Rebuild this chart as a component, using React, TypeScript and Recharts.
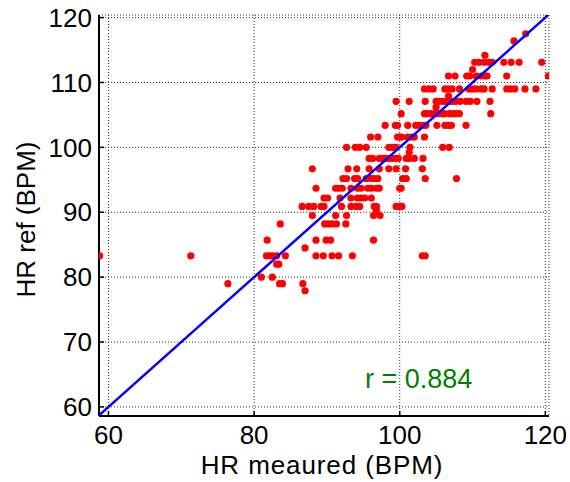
import React from 'react';
import { ScatterChart, Scatter, XAxis, YAxis, CartesianGrid, Label } from 'recharts';

// reference HR levels (rows of the scatter) and the measured HR values seen on each row
const REF_LEVELS = [
  117.5, 116.4, 114.2, 113.1, 112.0, 111.0, 109.0, 107.9, 107.1, 106.2, 105.2, 103.4, 101.6,
  100.0, 99.2, 98.3, 96.7, 95.2, 93.7, 92.2, 90.9, 90.3, 89.5, 88.2, 85.7, 84.5, 83.3, 82.0,
  80.0, 79.0, 77.9,
];

const MEASURED_AT_LEVEL = [
  [117.3],
  [115.7],
  [111.7],
  [110.3, 110.9, 111.6, 112.2, 112.7, 114.3, 115.3, 116.4, 119.5],
  [110.0],
  [106.7, 107.6, 109.2, 109.6, 110.5, 111.2, 111.7, 112.0, 114.7, 120.4],
  [103.4, 104.0, 104.6, 106.2, 106.7, 107.2, 108.2, 109.5, 110.0, 110.5, 111.2, 111.6, 112.7, 114.7, 115.2, 115.8, 117.2, 118.7],
  [106.7],
  [99.5, 101.3, 103.5, 105.0, 105.4, 105.9, 106.4, 106.8, 107.2, 107.7, 108.3, 109.1, 109.7, 110.6, 112.4],
  [105.0],
  [100.2, 103.4, 103.8, 104.3, 104.8, 105.2, 105.7, 106.1, 106.8, 107.3, 107.7, 108.2, 112.5],
  [98.0, 99.4, 99.7, 101.1, 102.2, 102.7, 103.2, 103.6, 105.1, 106.2, 106.7, 107.1, 109.1],
  [96.0, 97.0, 99.7, 100.0, 100.3, 101.1, 101.6, 102.0, 103.4],
  [92.7, 93.9, 94.5, 95.4, 98.5, 99.0, 99.5, 101.4, 105.9, 106.8],
  [101.3],
  [95.8, 96.3, 97.2, 97.7, 98.1, 98.6, 99.0, 99.5, 99.8, 100.9, 101.3, 102.0, 103.2],
  [88.0, 92.9, 94.1, 95.8, 97.2, 98.5, 99.5, 100.8, 103.1],
  [92.2, 92.7, 93.8, 94.2, 95.4, 96.1, 96.5, 97.0, 100.4, 100.9, 103.5, 107.8],
  [88.5, 91.2, 91.6, 92.1, 93.3, 94.2, 94.7, 95.6, 96.1, 96.8, 97.2, 100.0, 100.2],
  [89.6, 90.1, 91.8, 93.3, 94.2, 94.7, 95.2, 96.1],
  [86.6, 87.5, 88.2, 89.2, 89.6, 92.0, 93.3, 94.0, 94.5, 96.5, 96.8, 99.5, 100.0, 100.3],
  [96.8],
  [88.0, 91.2, 92.7, 96.4, 97.3],
  [83.6, 89.7, 90.2, 90.7, 91.3, 92.6],
  [81.8, 88.5, 89.9, 90.5, 96.4],
  [87.0],
  [58.8, 71.3, 81.7, 82.1, 82.5, 83.1, 84.3, 88.5, 89.5, 90.7, 91.6, 93.5, 103.1, 103.5],
  [83.1, 83.4],
  [81.0, 82.5],
  [76.4, 83.5, 83.9, 86.7],
  [87.0],
];

// identity line y = x
const IDENTITY_LINE = [58.6, 120.5];

const X_TICKS = [60, 80, 100, 120];
const Y_TICKS = [60, 70, 80, 90, 100, 110, 120];
const X_DOMAIN = [58.7, 120.5];
const Y_DOMAIN = [58.6, 120.4];

const R_TEXT = 'r = 0.884';

const points = REF_LEVELS.flatMap((ref, i) => MEASURED_AT_LEVEL[i].map((m) => ({ x: m, y: ref })));
const fitLine = IDENTITY_LINE.map((v) => ({ x: v, y: v }));

const FONT = '"Liberation Sans", Arial, sans-serif';
const TICK_LEN = 5;
const X_MARGIN = 10;
const Y_MARGIN = 7;

const BottomTick = (props: any) => {
  const { x, y, payload } = props;
  const axisY = y - X_MARGIN;
  return (
    <g>
      <line x1={x} x2={x} y1={axisY} y2={axisY - TICK_LEN} stroke="#000" strokeWidth={1.5} />
      <text x={x} y={y} dy="0.71em" textAnchor="middle" fontSize={26} fontFamily={FONT} fill="#000">
        {payload.value}
      </text>
    </g>
  );
};

const LeftTick = (props: any) => {
  const { x, y, payload } = props;
  const axisX = x + Y_MARGIN;
  return (
    <g>
      <line x1={axisX} x2={axisX + TICK_LEN} y1={y} y2={y} stroke="#000" strokeWidth={1.5} />
      <text x={x} y={y} dy="0.355em" textAnchor="end" fontSize={26} fontFamily={FONT} fill="#000">
        {payload.value}
      </text>
    </g>
  );
};

const TopTick = (props: any) => {
  const { x, y } = props;
  return <line x1={x} x2={x} y1={y} y2={y + TICK_LEN} stroke="#000" strokeWidth={1.5} />;
};

const RightTick = (props: any) => {
  const { x, y } = props;
  return <line x1={x} x2={x - TICK_LEN} y1={y} y2={y} stroke="#000" strokeWidth={1.5} />;
};

const Dot = (props: any) => <circle cx={props.cx} cy={props.cy} r={3.6} fill="#ff0000" />;

export default function App() {
  return (
    <div style={{ position: 'absolute', left: 0, top: 0, width: 570, height: 482, background: '#fff' }}>
      <ScatterChart width={570} height={482} margin={{ top: 15, right: 21, bottom: 0, left: 0 }}>
        <CartesianGrid stroke="#333" strokeDasharray="1 2" strokeWidth={1} />
        <XAxis
          type="number"
          dataKey="x"
          domain={X_DOMAIN}
          ticks={X_TICKS}
          allowDataOverflow
          height={66}
          tickSize={0}
          tickMargin={X_MARGIN}
          tickLine={false}
          axisLine={{ stroke: '#000', strokeWidth: 2 }}
          tick={<BottomTick />}
        >
          <Label
            content={(p: any) => {
              const vb = p.viewBox;
              return (
                <text
                  x={vb.x + vb.width / 2 - 2}
                  y={vb.y + 58}
                  textAnchor="middle"
                  fontSize={26}
                  letterSpacing={0.9}
                  fontFamily={FONT}
                  fill="#000"
                >
                  HR meaured (BPM)
                </text>
              );
            }}
          />
        </XAxis>
        <XAxis
          xAxisId="top"
          orientation="top"
          type="number"
          domain={X_DOMAIN}
          ticks={X_TICKS}
          allowDataOverflow
          height={0}
          tickSize={0}
          tickLine={false}
          axisLine={{ stroke: '#000', strokeWidth: 2 }}
          tick={<TopTick />}
        />
        <YAxis
          type="number"
          dataKey="y"
          domain={Y_DOMAIN}
          ticks={Y_TICKS}
          allowDataOverflow
          width={99}
          tickSize={0}
          tickMargin={Y_MARGIN}
          tickLine={false}
          axisLine={{ stroke: '#000', strokeWidth: 2 }}
          tick={<LeftTick />}
        >
          <Label
            content={(p: any) => {
              const vb = p.viewBox;
              const cx = 35;
              const cy = vb.y + vb.height / 2 + 4;
              return (
                <text x={cx} y={cy} transform={`rotate(-90 ${cx} ${cy})`} textAnchor="middle" fontSize={26} fontFamily={FONT} fill="#000">
                  HR ref (BPM)
                </text>
              );
            }}
          />
        </YAxis>
        <YAxis
          yAxisId="right"
          orientation="right"
          type="number"
          domain={Y_DOMAIN}
          ticks={Y_TICKS}
          allowDataOverflow
          width={0}
          tickSize={0}
          tickLine={false}
          axisLine={{ stroke: '#000', strokeWidth: 2 }}
          tick={<RightTick />}
        />
        <Scatter data={points} shape={<Dot />} isAnimationActive={false} />
        <Scatter
          data={fitLine}
          line={{ stroke: '#0000ff', strokeWidth: 2.5 }}
          shape={() => <g />}
          isAnimationActive={false}
        />
      </ScatterChart>
      <div
        style={{
          position: 'absolute',
          left: 365,
          top: 366,
          fontSize: 27,
          lineHeight: '27px',
          fontFamily: FONT,
          color: '#008000',
          whiteSpace: 'nowrap',
        }}
      >
        {R_TEXT}
      </div>
    </div>
  );
}
